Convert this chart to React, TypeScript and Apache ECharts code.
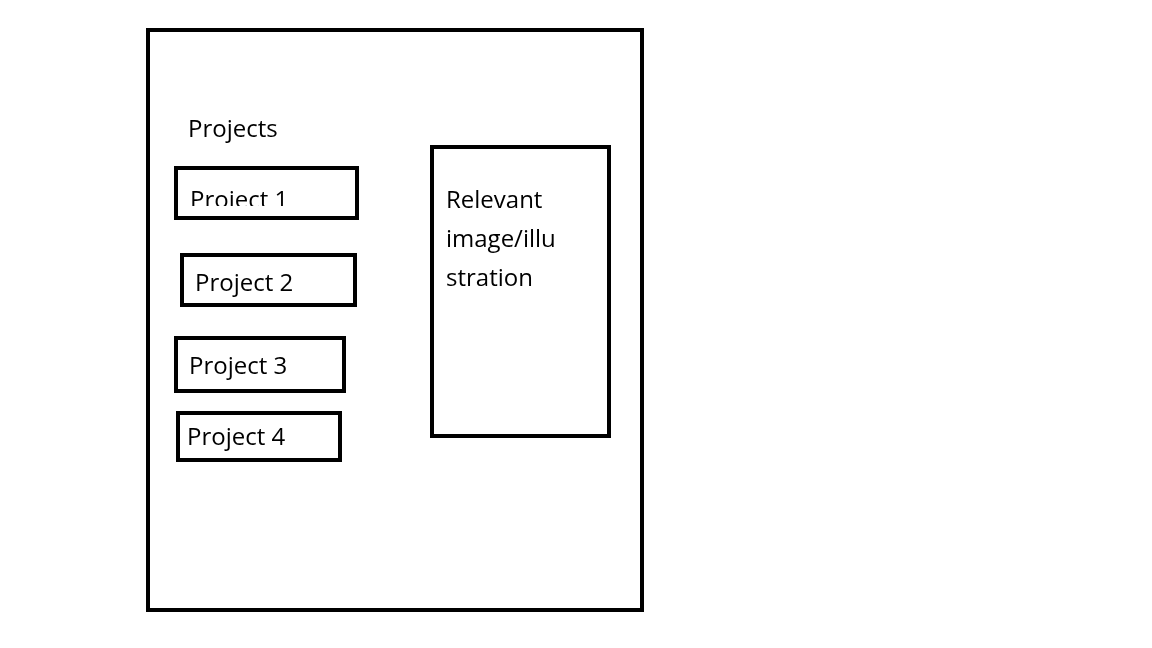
import { useEffect, useRef } from 'react';
import * as echarts from 'echarts';

const heading = 'Projects';
const projects = ['Project 1', 'Project 2', 'Project 3', 'Project 4'];
const imageLines = ['Relevant', 'image/illu', 'stration'];

// box layout for each project: [x, y, w, h, textX, textY]
const projectBoxes = [
  [176, 168, 181, 50, 190, 198],
  [182, 255, 173, 50, 195, 281],
  [176, 338, 168, 53, 189, 364],
  [178, 413, 162, 47, 187, 435],
];

const FONT = '"Open Sans", "Liberation Sans", sans-serif';
const stroke = { fill: 'none', stroke: '#000', lineWidth: 4 };

export default function App() {
  const ref = useRef<HTMLDivElement>(null);

  useEffect(() => {
    if (!ref.current) return;
    const chart = echarts.init(ref.current, undefined, { renderer: 'svg' });
    const txt = (text: string, x: number, y: number) => ({
      type: 'text', x, y,
      style: { text, fill: '#000', font: `24px ${FONT}`, textVerticalAlign: 'middle' },
    });
    const elements: any[] = [
      { type: 'rect', shape: { x: 0, y: 0, width: 1152, height: 648 }, style: { fill: '#fff' } },
      { type: 'rect', shape: { x: 148, y: 30, width: 494, height: 580 }, style: stroke },
      txt(heading, 188, 127),
    ];
    projects.forEach((p, i) => {
      const [x, y, w, h, tx, ty] = projectBoxes[i];
      elements.push(txt(p, tx, ty));
      if (i === 0) {
        // the first label is cut off at the bottom
        elements.push({ type: 'rect', shape: { x: x + 3, y: 206, width: w - 6, height: 10 }, style: { fill: '#fff' } });
      }
      elements.push({ type: 'rect', shape: { x, y, width: w, height: h }, style: stroke });
    });
    elements.push({ type: 'rect', shape: { x: 432, y: 147, width: 177, height: 289 }, style: stroke });
    imageLines.forEach((l, i) => elements.push(txt(l, 446, 198 + i * 39)));

    chart.setOption({ animation: false, graphic: { elements } });
    return () => chart.dispose();
  }, []);

  return <div ref={ref} style={{ position: 'fixed', left: 0, top: 0, width: 1152, height: 648 }} />;
}
